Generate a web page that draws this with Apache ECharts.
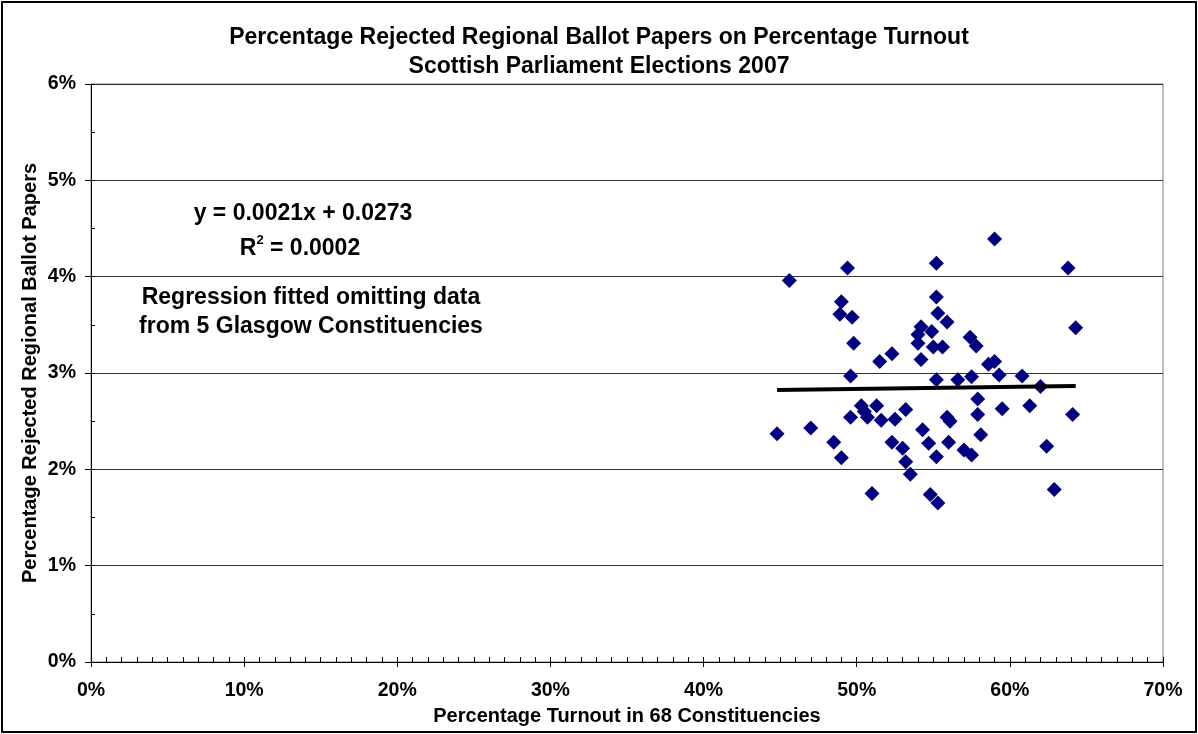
<!DOCTYPE html>
<html>
<head>
<meta charset="utf-8">
<script src="https://cdn.jsdelivr.net/npm/echarts@6/dist/echarts.min.js"></script>
<style>
  html, body { margin: 0; padding: 0; background: #fff; }
  #chart { width: 1198px; height: 734px; }
</style>
</head>
<body>
<div id="chart"></div>
<script>
// Turnout (%) and rejected regional ballot papers (%) for each constituency
const turnout = [
  44.8, 45.6, 47.0, 48.5, 48.9, 49.0, 49.0, 49.4, 49.6, 49.6,
  49.7, 49.8, 50.3, 50.5, 50.7, 51.0, 51.3, 51.5, 51.6, 52.3,
  52.3, 52.5, 53.0, 53.2, 53.2, 53.5, 54.0, 54.0, 54.2, 54.2,
  54.3, 54.7, 54.8, 54.9, 55.0, 55.2, 55.2, 55.2, 55.2, 55.3,
  55.3, 55.6, 55.9, 55.9, 56.0, 56.1, 56.6, 57.0, 57.4, 57.5,
  57.5, 57.8, 57.9, 57.9, 58.1, 58.6, 59.0, 59.0, 59.3, 59.5,
  60.8, 61.3, 62.0, 62.4, 62.9, 63.8, 64.1, 64.3
];
const rejected = [
  2.37, 3.96, 2.43, 2.28, 3.61, 3.74, 2.12, 4.09, 2.97, 2.54,
  3.58, 3.31, 2.66, 2.60, 2.54, 1.75, 2.66, 3.12, 2.51, 3.20,
  2.28, 2.52, 2.22, 2.62, 2.08, 1.95, 3.40, 3.31, 3.48, 3.14,
  2.41, 2.27, 1.74, 3.43, 3.27, 4.14, 3.79, 2.93, 2.13, 3.62,
  1.65, 3.27, 3.53, 2.54, 2.28, 2.50, 2.93, 2.20, 3.37, 2.96,
  2.15, 3.28, 2.73, 2.57, 2.36, 3.09, 4.39, 3.12, 2.98, 2.63,
  2.97, 2.66, 2.86, 2.24, 1.79, 4.09, 2.57, 3.47
];

// Fitted trend line (fractions): y = slope * x + intercept
const slope = 0.0021;
const intercept = 0.0273;
const rSquared = 0.0002;
const trendRange = [44.8, 64.3]; // turnout span covered by the fit, in %

const titleLines = [
  'Percentage Rejected Regional Ballot Papers on Percentage Turnout',
  'Scottish Parliament Elections 2007'
];
const xAxisTitle = 'Percentage Turnout in 68 Constituencies';
const yAxisTitle = 'Percentage Rejected Regional Ballot Papers';
const noteLines = ['Regression fitted omitting data', 'from 5 Glasgow Constituencies'];

const points = turnout.map((t, i) => [t, rejected[i]]);
const trend = trendRange.map(t => [t, (slope * (t / 100) + intercept) * 100]);

const FONT = 'Liberation Sans, Arial, sans-serif';
const chart = echarts.init(document.getElementById('chart'), null, { renderer: 'canvas' });

const grid = { left: 91, top: 84, right: 35, bottom: 72 };
const labelFont = { fontFamily: FONT, fontSize: 19.5, fontWeight: 'bold', color: '#000' };
const nameFont = { fontFamily: FONT, fontSize: 20, fontWeight: 'bold', color: '#000' };

chart.setOption({
  animation: false,
  backgroundColor: '#fff',
  textStyle: { fontFamily: FONT },
  title: {
    text: titleLines.join('\n'),
    left: 'center',
    top: 18,
    textStyle: { fontFamily: FONT, fontSize: 23, fontWeight: 'bold', color: '#000', lineHeight: 29 }
  },
  grid: Object.assign({ show: true, borderColor: '#808080', borderWidth: 1, backgroundColor: '#fff' }, grid),
  xAxis: [
    {
      type: 'value', min: 0, max: 70, interval: 10, position: 'bottom',
      name: xAxisTitle, nameLocation: 'middle', nameGap: 44, nameMoveOverlap: false,
      nameTextStyle: nameFont,
      axisLine: { show: true, onZero: false, lineStyle: { color: '#000', width: 1 } },
      axisTick: { show: true, inside: false, length: 5, lineStyle: { color: '#000' } },
      axisLabel: Object.assign({ formatter: '{value}%', margin: 19 }, labelFont),
      splitLine: { show: false }
    },
    {
      type: 'value', min: 0, max: 70, interval: 10, position: 'bottom',
      axisLine: { show: false, onZero: false },
      axisTick: { show: true, inside: true, length: 5, lineStyle: { color: '#000' } },
      minorTick: { show: true, splitNumber: 10, length: 5, lineStyle: { color: '#000' } },
      axisLabel: { show: false },
      splitLine: { show: false }
    }
  ],
  yAxis: [
    {
      type: 'value', min: 0, max: 6, interval: 1, position: 'left',
      name: yAxisTitle, nameLocation: 'middle', nameGap: 51, nameRotate: 90, nameMoveOverlap: false,
      nameTextStyle: nameFont,
      axisLine: { show: true, onZero: false, lineStyle: { color: '#000', width: 1 } },
      axisTick: { show: true, inside: false, length: 6, lineStyle: { color: '#000' } },
      axisLabel: Object.assign({ formatter: '{value}%', margin: 15 }, labelFont),
      splitLine: { show: true, lineStyle: { color: '#333', width: 1 } }
    },
    {
      type: 'value', min: 0, max: 6, interval: 1, position: 'left',
      axisLine: { show: false, onZero: false },
      axisTick: { show: true, inside: true, length: 4, lineStyle: { color: '#000' } },
      minorTick: { show: true, splitNumber: 2, length: 4, lineStyle: { color: '#000' } },
      axisLabel: { show: false },
      splitLine: { show: false }
    }
  ],
  series: [
    {
      type: 'scatter', xAxisIndex: 0, yAxisIndex: 0,
      data: points,
      symbol: 'diamond', symbolSize: [15, 15],
      itemStyle: { color: '#000080', opacity: 1 },
      z: 3
    },
    {
      type: 'line', xAxisIndex: 0, yAxisIndex: 0,
      data: trend,
      symbol: 'none',
      lineStyle: { color: '#000', width: 4 },
      z: 4
    }
  ],
  graphic: [
    {
      type: 'text', z: 10,
      style: {
        x: 303, y: 214,
        text: 'y = ' + slope.toFixed(4) + 'x + ' + intercept.toFixed(4),
        font: 'bold 23px ' + FONT, fill: '#000', align: 'center', verticalAlign: 'middle'
      }
    },
    {
      type: 'text', z: 10,
      style: {
        x: 300, y: 247,
        text: '{b|R}{s|2}{b| = ' + rSquared.toFixed(4) + '}',
        rich: {
          b: { font: 'bold 23px ' + FONT, fill: '#000', verticalAlign: 'bottom', lineHeight: 26 },
          s: { font: 'bold 13px ' + FONT, fill: '#000', verticalAlign: 'top', lineHeight: 26, padding: [0, 0, 12, 0] }
        },
        align: 'center', verticalAlign: 'middle'
      }
    },
    {
      type: 'text', z: 10,
      style: {
        x: 311, y: 312,
        text: noteLines.join('\n'),
        font: 'bold 23px ' + FONT, fill: '#000', align: 'center', verticalAlign: 'middle', lineHeight: 29
      }
    },
    {
      type: 'rect', z: 20, silent: true,
      shape: { x: 2, y: 2, width: 1194, height: 730 },
      style: { fill: 'none', stroke: '#000', lineWidth: 2 }
    }
  ]
});
</script>
</body>
</html>
